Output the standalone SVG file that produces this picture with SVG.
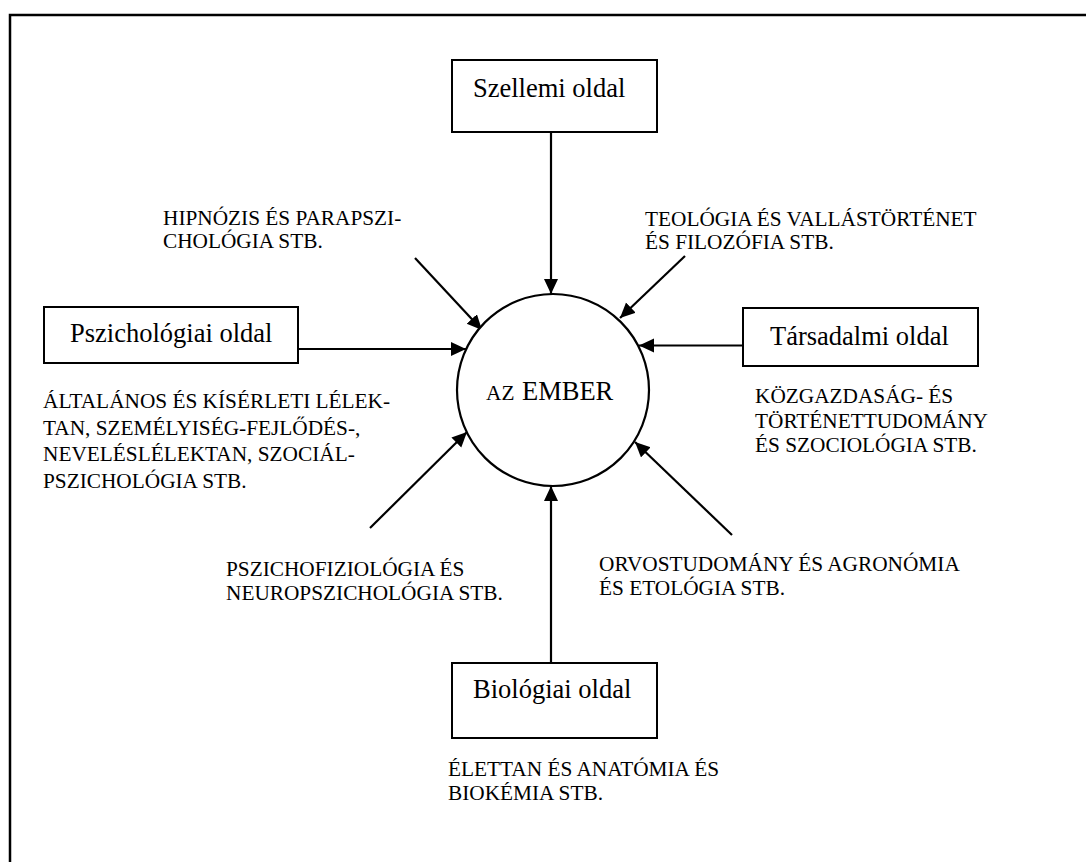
<svg xmlns="http://www.w3.org/2000/svg" width="1086" height="862" viewBox="0 0 1086 862">
  <style>
    .box { fill: #fff; stroke: #000; stroke-width: 2; }
    .lbl { font-family: "Liberation Serif", "Times New Roman", serif; font-size: 26.5px; fill: #000; }
    .sm { font-family: "Liberation Serif", "Times New Roman", serif; font-size: 21.3px; fill: #000; }
    .con { stroke: #000; stroke-width: 2.2; fill: none; marker-end: url(#arr); }
  </style>
  <defs>
    <marker id="arr" markerUnits="userSpaceOnUse" markerWidth="16" markerHeight="15" refX="15" refY="7" orient="auto">
      <path d="M0,0 L15,7 L0,14 z" fill="#000"/>
    </marker>
  </defs>
  <rect x="0" y="0" width="1086" height="862" fill="#fff"/>
  <rect id="frame" x="10" y="15" width="1100" height="900" fill="none" stroke="#000" stroke-width="2.5"/>

  <g id="connectors">
    <line class="con" x1="551" y1="132" x2="551" y2="294"/>
    <line class="con" x1="298" y1="349" x2="466" y2="349"/>
    <line class="con" x1="743" y1="345.5" x2="639" y2="345.5"/>
    <line class="con" x1="551" y1="663" x2="551" y2="486"/>
    <line class="con" x1="415" y1="258" x2="482" y2="330"/>
    <line class="con" x1="685" y1="256" x2="620" y2="318"/>
    <line class="con" x1="370" y1="528" x2="467" y2="432"/>
    <line class="con" x1="732" y1="535" x2="635" y2="442"/>
  </g>

  <g id="ember">
    <circle cx="553" cy="390" r="96" fill="#fff" stroke="#000" stroke-width="2.2"/>
    <text x="486" y="400" class="sm" font-size="20.5">AZ</text>
    <text x="522" y="400" class="lbl" font-size="25.6">EMBER</text>
  </g>

  <g id="szellemi">
    <rect class="box" x="452" y="60" width="205" height="72"/>
    <text class="lbl" x="473" y="97">Szellemi oldal</text>
  </g>
  <g id="pszichologiai">
    <rect class="box" x="44" y="307" width="254" height="56"/>
    <text class="lbl" x="70" y="342">Pszichológiai oldal</text>
  </g>
  <g id="tarsadalmi">
    <rect class="box" x="743" y="308" width="235" height="58"/>
    <text class="lbl" x="770" y="345">Társadalmi oldal</text>
  </g>
  <g id="biologiai">
    <rect class="box" x="452" y="663" width="205" height="75"/>
    <text class="lbl" x="473" y="698">Biológiai oldal</text>
  </g>

  <g id="texts">
    <text class="sm" x="163" y="225">HIPNÓZIS ÉS PARAPSZI-</text>
    <text class="sm" x="163" y="248">CHOLÓGIA STB.</text>
    <text class="sm" x="645" y="226">TEOLÓGIA ÉS VALLÁSTÖRTÉNET</text>
    <text class="sm" x="645" y="249">ÉS FILOZÓFIA STB.</text>
    <text class="sm" x="43" y="408">ÁLTALÁNOS ÉS KÍSÉRLETI LÉLEK-</text>
    <text class="sm" x="43" y="435">TAN, SZEMÉLYISÉG-FEJLŐDÉS-,</text>
    <text class="sm" x="43" y="461">NEVELÉSLÉLEKTAN, SZOCIÁL-</text>
    <text class="sm" x="43" y="488">PSZICHOLÓGIA STB.</text>
    <text class="sm" x="755" y="403">KÖZGAZDASÁG- ÉS</text>
    <text class="sm" x="755" y="428">TÖRTÉNETTUDOMÁNY</text>
    <text class="sm" x="755" y="452">ÉS SZOCIOLÓGIA STB.</text>
    <text class="sm" x="226" y="576">PSZICHOFIZIOLÓGIA ÉS</text>
    <text class="sm" x="226" y="600">NEUROPSZICHOLÓGIA STB.</text>
    <text class="sm" x="599" y="571">ORVOSTUDOMÁNY ÉS AGRONÓMIA</text>
    <text class="sm" x="599" y="595">ÉS ETOLÓGIA STB.</text>
    <text class="sm" x="448" y="776">ÉLETTAN ÉS ANATÓMIA ÉS</text>
    <text class="sm" x="448" y="800">BIOKÉMIA STB.</text>
  </g>
</svg>
